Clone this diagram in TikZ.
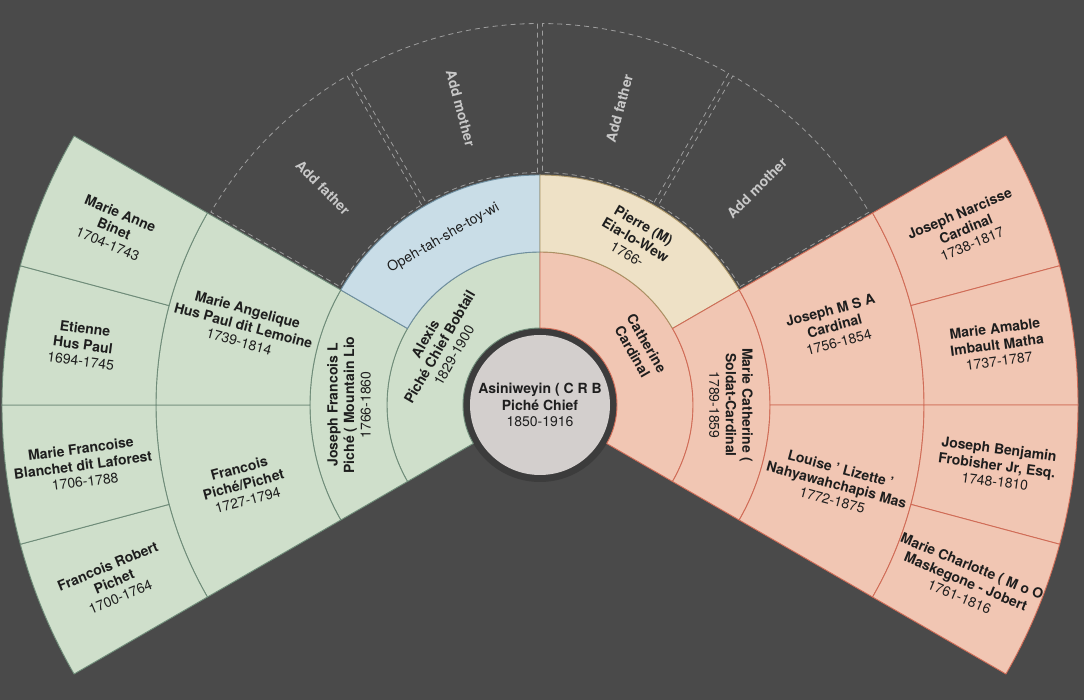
\documentclass[tikz,border=0pt]{standalone}
\usepackage{fontspec}
\setmainfont{TeX Gyre Heros}
\definecolor{bgc}{HTML}{4A4A4A}
\definecolor{ringc}{HTML}{3C3C3C}
\definecolor{rootc}{HTML}{D3CFCD}
\definecolor{grf}{HTML}{CFDFCB}
\definecolor{grl}{HTML}{6F8C79}
\definecolor{blf}{HTML}{C9DDE7}
\definecolor{bll}{HTML}{6E8EA0}
\definecolor{yef}{HTML}{EEE1C6}
\definecolor{yel}{HTML}{A89264}
\definecolor{saf}{HTML}{F1C6B3}
\definecolor{sal}{HTML}{D06C57}
\definecolor{txtc}{HTML}{1E1E1E}
\definecolor{phc}{HTML}{9E9E9E}
\definecolor{phtxt}{HTML}{C8C8C8}
\newcommand\fansec[6]{%
  \filldraw[fill=#1,draw=#2,line width=0.9pt,line join=round]
    (#3:#5pt) -- (#3:#6pt) arc[start angle=#3,end angle=#4,radius=#6pt]
    -- (#4:#5pt) arc[start angle=#4,end angle=#3,radius=#5pt] -- cycle;}
\newcommand\fanph[4]{%
  \pgfmathsetmacro\phA{#1+143.24/#3}%
  \pgfmathsetmacro\phB{#1+143.24/#4}%
  \pgfmathsetmacro\phC{#2-143.24/#4}%
  \pgfmathsetmacro\phD{#2-143.24/#3}%
  \pgfmathsetmacro\phR{#3+2.5}%
  \pgfmathsetmacro\phS{#4-2.5}%
  \draw[phline] (\phA:\phR pt) -- (\phB:\phS pt)
    arc[start angle=\phB,end angle=\phC,radius=\phS pt]
    -- (\phD:\phR pt) arc[start angle=\phD,end angle=\phA,radius=\phR pt] -- cycle;}
\newcommand\fanlbl[5]{\node[lbl,rotate=#4] (#1) at (#2:#3pt) {#5};}
\newcommand\fanadd[5]{\node[addlbl,rotate=#4] (#1) at (#2:#3pt) {Add #5};}
\tikzset{
  lbl/.style={align=center,text=txtc,inner sep=0pt,
    font=\fontsize{14}{16.5}\selectfont},
  addlbl/.style={text=phtxt,inner sep=0pt,
    font=\fontsize{14}{16.5}\selectfont\bfseries},
  phline/.style={draw=phc,line width=0.8pt,dash pattern=on 5pt off 4pt}
}
\begin{document}
\begin{tikzpicture}[x=1pt,y=1pt]
\useasboundingbox (-540,-295) rectangle (544,405);
\fill[bgc] (-540,-295) rectangle (544,405);
% center
\fill[ringc] (0,0) circle[radius=77pt];
% generation 1
\fansec{grf}{grl}{90}{210}{77}{153}
\fansec{saf}{sal}{-30}{90}{77}{153}
% generation 2
\fansec{grf}{grl}{150}{210}{153}{230}
\fansec{blf}{bll}{90}{150}{153}{230}
\fansec{yef}{yel}{30}{90}{153}{230}
\fansec{saf}{sal}{-30}{30}{153}{230}
% generation 3
\fansec{grf}{grl}{180}{210}{230}{384}
\fansec{grf}{grl}{150}{180}{230}{384}
\fansec{saf}{sal}{0}{30}{230}{384}
\fansec{saf}{sal}{-30}{0}{230}{384}
\fanph{120}{150}{230}{384}
\fanph{90}{120}{230}{384}
\fanph{60}{90}{230}{384}
\fanph{30}{60}{230}{384}
% generation 4
\fansec{grf}{grl}{195}{210}{384}{538}
\fansec{grf}{grl}{180}{195}{384}{538}
\fansec{grf}{grl}{165}{180}{384}{538}
\fansec{grf}{grl}{150}{165}{384}{538}
\fansec{saf}{sal}{15}{30}{384}{538}
\fansec{saf}{sal}{0}{15}{384}{538}
\fansec{saf}{sal}{-15}{0}{384}{538}
\fansec{saf}{sal}{-30}{-15}{384}{538}
% root circle
\fill[rootc] (0,0) circle[radius=70pt];
\node[lbl] (root) at (0,0) {\textbf{Asiniweyin ( C R B}\\\textbf{Piché Chief}\\1850-1916};
% labels generation 1
\fanlbl{alexis}{150}{116}{60}{\textbf{Alexis}\\\textbf{Piché Chief Bobtail}\\1829-1900}
\fanlbl{catherine}{30}{115}{-60}{\textbf{Catherine}\\\textbf{Cardinal}}
% labels generation 2
\fanlbl{jfl}{180}{191}{90}{\textbf{Joseph Francois L}\\\textbf{Piché ( Mountain Lio}\\1766-1860}
\fanlbl{opeh}{120}{193}{30}{Opeh-tah-she-toy-wi}
\fanlbl{pierre}{60}{191}{-30}{\textbf{Pierre (M)}\\\textbf{Eia-lo-Wew}\\1766-}
\fanlbl{mcath}{0}{191}{-90}{\textbf{Marie Catherine (}\\\textbf{Soldat-Cardinal}\\1789-1859}
% labels generation 3
\fanlbl{francois}{195}{307}{15}{\textbf{Francois}\\\textbf{Piché/Pichet}\\1727-1794}
\fanlbl{mang}{165}{307}{-15}{\textbf{Marie Angelique}\\\textbf{Hus Paul dit Lemoine}\\1739-1814}
\fanadd{addfa}{135}{307}{-45}{father}
\fanadd{addma}{105}{307}{-75}{mother}
\fanadd{addfb}{75}{307}{75}{father}
\fanadd{addmb}{45}{307}{45}{mother}
\fanlbl{jmsa}{15}{305}{15}{\textbf{Joseph M S A}\\\textbf{Cardinal}\\1756-1854}
\fanlbl{louise}{-15}{307}{-15}{\textbf{Louise ' Lizette '}\\\textbf{Nahyawahchapis Mas}\\1772-1875}
% labels generation 4
\fanlbl{frobert}{202.5}{461}{22.5}{\textbf{Francois Robert}\\\textbf{Pichet}\\1700-1764}
\fanlbl{mfran}{187.5}{461}{7.5}{\textbf{Marie Francoise}\\\textbf{Blanchet dit Laforest}\\1706-1788}
\fanlbl{etienne}{172.5}{461}{-7.5}{\textbf{Etienne}\\\textbf{Hus Paul}\\1694-1745}
\fanlbl{manne}{157.5}{461}{-22.5}{\textbf{Marie Anne}\\\textbf{Binet}\\1704-1743}
\fanlbl{jnarc}{22.5}{461}{22.5}{\textbf{Joseph Narcisse}\\\textbf{Cardinal}\\1738-1817}
\fanlbl{mamab}{7.5}{461}{7.5}{\textbf{Marie Amable}\\\textbf{Imbault Matha}\\1737-1787}
\fanlbl{jbenj}{-7.5}{461}{-7.5}{\textbf{Joseph Benjamin}\\\textbf{Frobisher Jr, Esq.}\\1748-1810}
\fanlbl{mcharl}{-22.5}{461}{-22.5}{\textbf{Marie Charlotte ( M o O}\\\textbf{Maskegone - Jobert}\\1761-1816}
\end{tikzpicture}
\end{document}
